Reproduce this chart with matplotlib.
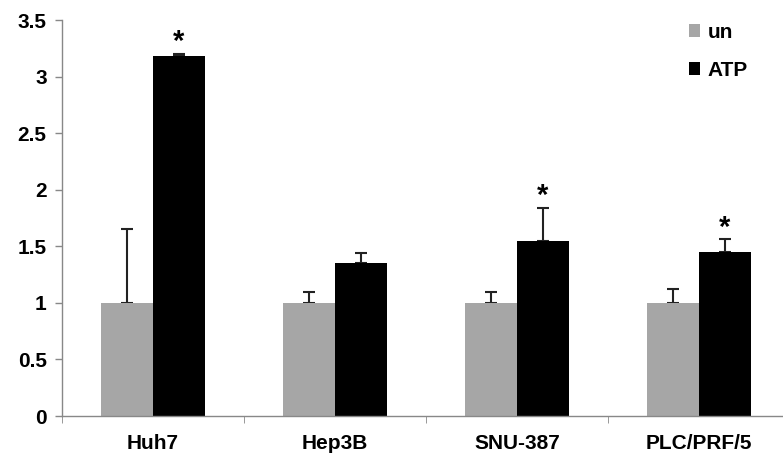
import matplotlib
matplotlib.use("Agg")
import matplotlib.pyplot as plt
import numpy as np

plt.rcParams['font.family'] = ['Liberation Sans', 'DejaVu Sans']

categories = ["Huh7", "Hep3B", "SNU-387", "PLC/PRF/5"]
un_values = [1.0, 1.0, 1.0, 1.0]
un_err = [0.65, 0.10, 0.10, 0.12]
atp_values = [3.18, 1.35, 1.55, 1.45]
atp_err = [0.02, 0.09, 0.29, 0.11]
significant = [True, False, True, True]
yticks = [0, 0.5, 1, 1.5, 2, 2.5, 3, 3.5]

fig = plt.figure(figsize=(7.83, 4.55), dpi=100)
ax = fig.add_axes([62/783, 39/455, 728/783, 396/455])

x = np.arange(len(categories))
w = 0.286
zeros = [0]*len(categories)
ax.bar(x - w/2, un_values, w, color="#a6a6a6", label="un", zorder=2)
ax.bar(x + w/2, atp_values, w, color="black", label="ATP", zorder=2)
ax.errorbar(x - w/2, un_values, yerr=[zeros, un_err], fmt="none", ecolor="#222222",
            elinewidth=1.5, capsize=4.5, capthick=1.5, zorder=1)
ax.errorbar(x + w/2, atp_values, yerr=[zeros, atp_err], fmt="none", ecolor="#222222",
            elinewidth=1.5, capsize=4.5, capthick=1.5, zorder=1)
for xi, v, e, s in zip(x, atp_values, atp_err, significant):
    if s:
        ax.text(xi + w/2, v + e - 0.02, "*", ha="center", va="bottom",
                fontsize=21, fontweight="bold")

ax.set_xlim(-0.5, len(categories) - 0.5)
ax.set_ylim(0, 3.5)
ax.set_yticks(yticks)
ax.set_yticklabels([f"{t:g}" for t in yticks], fontsize=15, fontweight="bold")
ax.set_xticks(x)
ax.set_xticklabels(categories, fontsize=15, fontweight="bold")
ax.tick_params(axis="x", length=0, pad=13)
ax.set_xticks(np.arange(len(categories) + 1) - 0.5, minor=True)
ax.tick_params(axis="x", which="minor", length=5, color="#888888", direction="out")
ax.tick_params(axis="y", length=5, color="#888888", width=1, pad=6)
for sp in ["top", "right"]:
    ax.spines[sp].set_visible(False)
for sp in ["left", "bottom"]:
    ax.spines[sp].set_color("#888888")
    ax.spines[sp].set_linewidth(1)

leg = ax.legend(loc="upper right", bbox_to_anchor=(0.968, 1.04), frameon=False,
                prop={"size": 15, "weight": "bold"}, handlelength=0.55, handleheight=0.55,
                handletextpad=0.35, labelspacing=0.9)

fig.savefig("out.png", dpi=100)
